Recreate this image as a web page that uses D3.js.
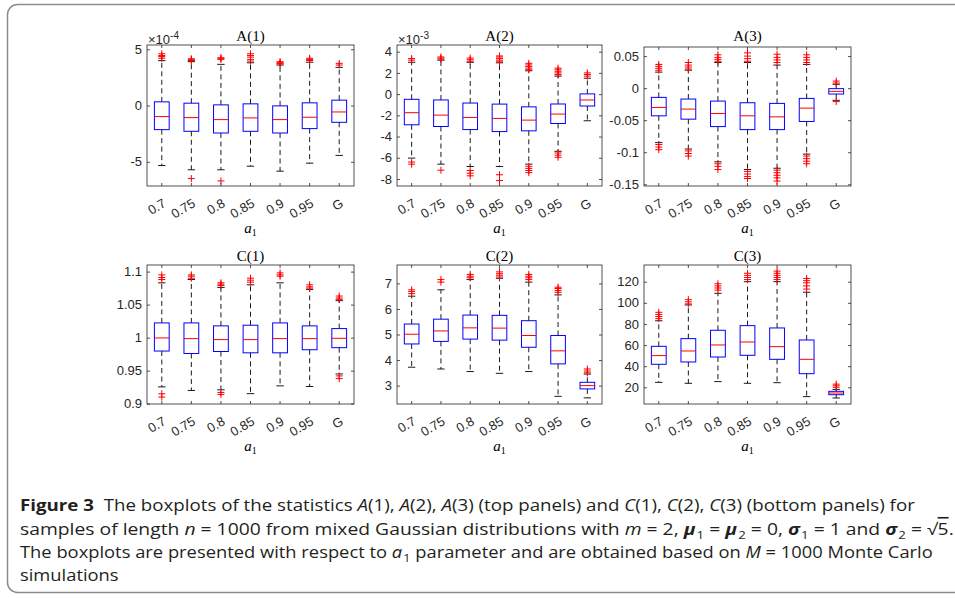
<!DOCTYPE html>
<html>
<head>
<meta charset="utf-8">
<script src="https://cdn.jsdelivr.net/npm/d3@7"></script>
<style>
  body { margin: 0; background: #fff; }
</style>
</head>
<body>
<svg id="fig" width="955" height="598"></svg>
<script>
var groups = ["0.7", "0.75", "0.8", "0.85", "0.9", "0.95", "G"];

// each row: [lower whisker, q1, median, q3, upper whisker]
var a1Box = [[-5.33, -2.14, -0.98, 0.33, 3.99], [-5.71, -2.29, -1.07, 0.21, 3.9], [-5.71, -2.44, -1.25, 0.06, 3.66],
  [-5.39, -2.29, -1.1, 0.15, 3.8], [-5.83, -2.44, -1.25, -0.03, 3.6], [-5.12, -2.05, -1.04, 0.24, 3.85], [-4.43, -1.49, -0.57, 0.48, 3.39]];
var a1Out = [[4.2, 4.35, 4.45, 4.6], [4.0, 4.1, 4.15, -6.49], [4.1, 4.2, 4.25, -6.7], [3.95, 4.1, 4.3, 4.45, 4.6],
  [3.7, 3.75, 3.8, 3.9], [4.0, 4.1, 4.2], [3.6, 3.75]];
var a1Ticks = [-5, 0, 5];

var a2Box = [[-6.03, -2.89, -1.75, -0.49, 3.0], [-6.6, -3.05, -1.98, -0.55, 3.2], [-6.82, -3.34, -2.2, -0.84, 3.0],
  [-6.82, -3.53, -2.29, -0.94, 2.95], [-6.6, -3.46, -2.45, -1.2, 2.2], [-5.39, -2.77, -1.88, -0.93, 1.7], [-2.51, -1.12, -0.55, 0.02, 1.5]];
var a2Out = [[3.2, 3.35, -6.4, -6.6], [3.3, 3.4, 3.5, -7.17], [3.1, 3.25, 3.4, -7.2, -7.45, -7.7],
  [3.05, 3.2, 3.35, 3.5, 3.6, -7.6, -8.15], [2.3, 2.45, 2.6, 2.75, 2.9, -6.8, -7.0, -7.2, -7.4],
  [1.85, 2.0, 2.15, 2.3, 2.45, -5.55, -5.75, -5.95], [1.7, 1.85, 2.0]];
var a2Ticks = [-8, -6, -4, -2, 0, 2, 4];

var a3Box = [[-0.085, -0.0432, -0.0301, -0.0144, 0.025], [-0.095, -0.0484, -0.0327, -0.017, 0.028], [-0.115, -0.06, -0.0395, -0.0202, 0.04],
  [-0.127, -0.0647, -0.0432, -0.0228, 0.04], [-0.125, -0.0647, -0.0448, -0.0238, 0.036], [-0.103, -0.052, -0.0312, -0.016, 0.037],
  [-0.019, -0.0092, -0.005, -0.0008, 0.006]];
var a3Out = [[0.028, 0.031, 0.034, 0.037, -0.088, -0.092, -0.096], [0.03, 0.033, 0.036, 0.04, -0.098, -0.102, -0.106],
  [0.042, 0.045, 0.048, 0.052, -0.118, -0.122, -0.127], [0.042, 0.046, 0.05, 0.055, -0.13, -0.134, -0.138, -0.141],
  [0.04, 0.044, 0.048, 0.053, -0.128, -0.132, -0.136, -0.14, -0.145], [0.04, 0.044, 0.048, 0.052, -0.106, -0.11, -0.114, -0.118],
  [0.008, 0.011, -0.021]];
var a3Ticks = [-0.15, -0.1, -0.05, 0, 0.05];

var c1Box = [[0.9254, 0.9797, 0.9995, 1.0223, 1.083], [0.92, 0.976, 0.9985, 1.0223, 1.088], [0.921, 0.979, 0.997, 1.0178, 1.076],
  [0.9152, 0.977, 0.997, 1.0188, 1.08], [0.927, 0.977, 0.9985, 1.0223, 1.083], [0.926, 0.9817, 0.9985, 1.0178, 1.073],
  [0.945, 0.9848, 0.999, 1.0137, 1.056]];
var c1Out = [[1.088, 1.091, 1.095, 0.91, 0.915], [1.09, 1.093, 1.095], [1.079, 1.081, 1.083, 0.914, 0.917],
  [1.084, 1.087, 1.09], [1.093, 1.095, 1.098], [1.075, 1.077, 1.08], [1.058, 1.06, 1.063, 0.938, 0.942]];
var c1Ticks = [0.9, 0.95, 1, 1.05, 1.1];

var c2Box = [[3.72, 4.63, 5.01, 5.41, 6.5], [3.65, 4.73, 5.14, 5.6, 6.75], [3.55, 4.82, 5.26, 5.76, 7.15],
  [3.48, 4.78, 5.25, 5.75, 7.2], [3.55, 4.5, 4.96, 5.54, 7.05], [2.58, 3.85, 4.36, 4.96, 6.55], [2.52, 2.87, 3.0, 3.13, 3.45]];
var c2Out = [[6.6, 6.68, 6.75], [7.05, 7.15], [7.22, 7.28, 7.35], [7.25, 7.32, 7.38, 7.45], [7.15, 7.22, 7.28, 7.35],
  [6.65, 6.72, 6.8, 6.85], [3.5, 3.57, 3.65]];
var c2Ticks = [3, 4, 5, 6, 7];

var c3Box = [[24.7, 41.8, 50, 58.8, 83], [23.8, 44, 54.4, 66.1, 98], [25.4, 48.7, 60.1, 74, 109],
  [23.8, 50.3, 62.9, 78.4, 120], [24.4, 46.5, 58.5, 76.2, 120], [11.2, 32.9, 46.5, 64.8, 110], [9.9, 13, 14.6, 16.2, 18]];
var c3Out = [[85, 87, 89, 91], [99, 101, 103], [112, 114, 116, 118], [122, 124, 126, 128], [122, 124, 126, 128, 130],
  [113, 116, 119, 121, 123], [20, 21.5, 23]];
var c3Ticks = [20, 40, 60, 80, 100, 120];

var svg = d3.select("#fig");
var sans = "'Liberation Sans', Arial, Helvetica, sans-serif";
var serif = "'Liberation Serif', 'Times New Roman', serif";
var axisColor = "#262626";

// outer frame of the figure
svg.append("rect")
  .attr("x", 7.5).attr("y", 4.5)
  .attr("width", 1000).attr("height", 588)
  .attr("rx", 10)
  .attr("fill", "none")
  .attr("stroke", "#8c8c8c")
  .attr("stroke-width", 1.5);

var cols = [[147, 354], [397, 602], [644, 851]];
var rows = [{top: 45, bottom: 186, title: 41}, {top: 265, bottom: 404, title: 261}];

var panels = [
  {title: "A(1)", box: a1Box, out: a1Out, ticks: a1Ticks, dom: [-7.15, 5.38], exp: "-4", col: 0, row: 0},
  {title: "A(2)", box: a2Box, out: a2Out, ticks: a2Ticks, dom: [-8.66, 4.63], exp: "-3", col: 1, row: 0},
  {title: "A(3)", box: a3Box, out: a3Out, ticks: a3Ticks, dom: [-0.1527, 0.0642], col: 2, row: 0, top: 47},
  {title: "C(1)", box: c1Box, out: c1Out, ticks: c1Ticks, dom: [0.8995, 1.11], col: 0, row: 1},
  {title: "C(2)", box: c2Box, out: c2Out, ticks: c2Ticks, dom: [2.28, 7.72], col: 1, row: 1},
  {title: "C(3)", box: c3Box, out: c3Out, ticks: c3Ticks, dom: [4.2, 135.8], col: 2, row: 1}
];

panels.forEach(drawPanel);

function drawPanel(p) {
  var x0 = cols[p.col][0], x1 = cols[p.col][1];
  var top = p.top || rows[p.row].top, bottom = rows[p.row].bottom;
  var g = svg.append("g");

  var x = d3.scaleBand().domain(groups).range([x0, x1]);
  var y = d3.scaleLinear().domain(p.dom).range([bottom, top]);
  var bw = x.bandwidth();

  // axes, ticks pointing inward like matlab
  g.append("g")
    .attr("transform", "translate(" + x0 + ",0)")
    .call(d3.axisLeft(y).tickValues(p.ticks).tickSize(-3).tickSizeOuter(0).tickPadding(5)
      .tickFormat(function(d) { return String(d); }));
  g.append("g")
    .attr("transform", "translate(" + x1 + ",0)")
    .call(d3.axisRight(y).tickValues(p.ticks).tickSize(-3).tickSizeOuter(0).tickFormat(""));
  var bot = g.append("g")
    .attr("transform", "translate(0," + bottom + ")")
    .call(d3.axisBottom(x).tickSize(-3).tickSizeOuter(0));
  g.append("g")
    .attr("transform", "translate(0," + top + ")")
    .call(d3.axisTop(x).tickSize(-3).tickSizeOuter(0).tickFormat(""));

  g.selectAll(".domain").remove();
  g.selectAll(".tick line").attr("stroke", axisColor).attr("stroke-width", 0.8);
  g.selectAll("text").attr("fill", axisColor).style("font-family", sans).style("font-size", "13px");

  bot.selectAll(".tick text")
    .attr("text-anchor", "end")
    .attr("x", 5).attr("y", 20).attr("dy", null)
    .attr("transform", "rotate(-30,5,20)");

  g.append("rect")
    .attr("x", x0).attr("y", top)
    .attr("width", x1 - x0).attr("height", bottom - top)
    .attr("fill", "none").attr("stroke", axisColor).attr("stroke-width", 0.8);

  // boxes
  var bx = g.selectAll(".bx").data(p.box).enter().append("g")
    .attr("transform", function(d, i) { return "translate(" + (x(groups[i]) + bw / 2) + ",0)"; });

  bx.append("line").attr("class", "whisk")
    .attr("y1", function(d) { return y(d[3]); }).attr("y2", function(d) { return y(d[4]); });
  bx.append("line").attr("class", "whisk")
    .attr("y1", function(d) { return y(d[1]); }).attr("y2", function(d) { return y(d[0]); });
  bx.selectAll(".whisk").attr("x1", 0).attr("x2", 0)
    .attr("stroke", "#000").attr("stroke-width", 0.9).attr("stroke-dasharray", "5,3.5");

  [0, 4].forEach(function(k) {
    bx.append("line")
      .attr("x1", -bw * 0.125).attr("x2", bw * 0.125)
      .attr("y1", function(d) { return y(d[k]); }).attr("y2", function(d) { return y(d[k]); })
      .attr("stroke", "#000").attr("stroke-width", 0.9);
  });

  bx.append("rect")
    .attr("x", -bw / 4).attr("width", bw / 2)
    .attr("y", function(d) { return y(d[3]); })
    .attr("height", function(d) { return y(d[1]) - y(d[3]); })
    .attr("fill", "none").attr("stroke", "#0000ff").attr("stroke-width", 1);

  bx.append("line")
    .attr("x1", -bw / 4).attr("x2", bw / 4)
    .attr("y1", function(d) { return y(d[2]); }).attr("y2", function(d) { return y(d[2]); })
    .attr("stroke", "#ff0000").attr("stroke-width", 1);

  // outliers as red plus signs
  bx.each(function(d, i) {
    d3.select(this).selectAll(".out").data(p.out[i]).enter().append("path")
      .attr("d", function(v) { var yy = y(v); return "M-3.5," + yy + "H3.5M0," + (yy - 3.5) + "V" + (yy + 3.5); })
      .attr("stroke", "#ff0000").attr("stroke-width", 1).attr("fill", "none");
  });

  // title
  g.append("text")
    .attr("x", (x0 + x1) / 2).attr("y", rows[p.row].title)
    .attr("text-anchor", "middle")
    .style("font-family", serif).style("font-size", "15px")
    .text(p.title);

  // x label a_1
  var xl = g.append("text")
    .attr("x", (x0 + x1) / 2).attr("y", bottom + 47)
    .attr("text-anchor", "middle")
    .style("font-family", serif).style("font-size", "15px");
  xl.append("tspan").style("font-style", "italic").text("a");
  xl.append("tspan").attr("dy", 3).style("font-size", "10px").text("1");

  if (p.exp) {
    var ex = g.append("text")
      .attr("x", x0 + 1).attr("y", top - 1)
      .attr("fill", axisColor)
      .style("font-family", sans).style("font-size", "13px");
    ex.append("tspan").text("\u00d710");
    ex.append("tspan").attr("dy", -5).style("font-size", "10px").text(p.exp);
  }
}

// caption
var capFont = "'Open Sans', 'Noto Sans', sans-serif";
var caption = [
  {y: 511, w: 895, seg: [["Figure 3", "b"], ["  The boxplots of the statistics "], ["A", "i"], ["(1), "], ["A", "i"], ["(2), "], ["A", "i"],
    ["(3) (top panels) and "], ["C", "i"], ["(1), "], ["C", "i"], ["(2), "], ["C", "i"], ["(3) (bottom panels) for"]]},
  {y: 535, w: 930, seg: [["samples of length "], ["n", "i"], [" = 1000 from mixed Gaussian distributions with "], ["m", "i"], [" = 2, "],
    ["\u03bc", "bi"], ["1", "sub"], [" = "], ["\u03bc", "bi"], ["2", "sub"], [" = 0, "], ["\u03c3", "bi"], ["1", "sub"], [" = 1 and "],
    ["\u03c3", "bi"], ["2", "sub"], [" = \u221a"], ["5", "ov"], ["."]]},
  {y: 558, w: 912, seg: [["The boxplots are presented with respect to "], ["a", "i"], ["1", "sub"], [" parameter and are obtained based on "],
    ["M", "i"], [" = 1000 Monte Carlo"]]},
  {y: 581, seg: [["simulations"]]}
];

var lastScale = 0.85;
caption.forEach(function(line) {
  var t = svg.append("text")
    .attr("x", 0).attr("y", 0)
    .attr("fill", "#231f20")
    .style("font-family", capFont).style("font-size", "16px")
    .style("white-space", "pre");
  var shift = 0;
  line.seg.forEach(function(s) {
    var ts = t.append("tspan").text(s[0]);
    var want = s[1] === "sub" ? 4 : 0;
    if (want !== shift) { ts.attr("dy", want - shift); shift = want; }
    if (s[1] === "sub") ts.attr("dx", 1).style("font-size", "11px");
    if (s[1] === "b") ts.style("font-weight", "bold");
    if (s[1] === "i") ts.style("font-style", "italic");
    if (s[1] === "bi") ts.style("font-weight", "bold").style("font-style", "italic");
    if (s[1] === "ov") ts.style("text-decoration", "overline");
  });
  var len = t.node().getComputedTextLength();
  var sc = line.w ? line.w / len : lastScale;
  lastScale = sc;
  t.attr("transform", "translate(20," + line.y + ") scale(" + sc + ",1)");
});
</script>
</body>
</html>
